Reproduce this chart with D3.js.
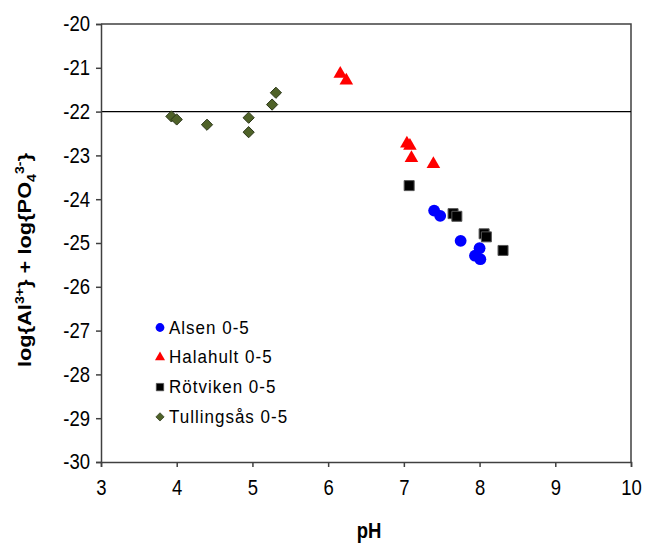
<!DOCTYPE html>
<html>
<head>
<meta charset="utf-8">
<script src="https://cdn.jsdelivr.net/npm/d3@7"></script>
<style>
  body { margin: 0; background: #fff; }
  text { font-family: "Liberation Sans", Arial, sans-serif; fill: #000; }
</style>
</head>
<body>
<div id="chart"></div>
<script>
// data: pH and log{Al3+} + log{PO4 3-}
const alsenPH = [7.40, 7.48, 7.75, 8.00, 7.94, 8.01];
const alsenLog = [-24.26, -24.38, -24.95, -25.12, -25.29, -25.37];

const halahultPH = [6.16, 6.24, 7.04, 7.08, 7.10, 7.39];
const halahultLog = [-21.14, -21.29, -22.73, -22.78, -23.06, -23.20];

const rotvikenPH = [7.07, 7.65, 7.70, 8.06, 8.09, 8.31];
const rotvikenLog = [-23.69, -24.33, -24.39, -24.79, -24.86, -25.17];

const tullingsasPH = [3.93, 4.00, 4.40, 4.95, 4.95, 5.26, 5.31];
const tullingsasLog = [-22.11, -22.18, -22.30, -22.14, -22.47, -21.84, -21.57];

const seriesNames = ['Alsen 0-5', 'Halahult 0-5', 'Rötviken 0-5', 'Tullingsås 0-5'];
const xTicks = [3, 4, 5, 6, 7, 8, 9, 10];
const yTicks = [-20, -21, -22, -23, -24, -25, -26, -27, -28, -29, -30];
const refLine = -22;

// layout
const svgWidth = 645, svgHeight = 545;
const plot = { left: 101, right: 631, top: 24, bottom: 462 };
// text in the picture looks a bit taller than wide
const stretch = 'scale(1,1.18)';

const svg = d3.select('#chart')
    .append('svg')
    .attr('width', svgWidth)
    .attr('height', svgHeight);

const x = d3.scaleLinear().domain([3, 10]).range([plot.left, plot.right]);
const y = d3.scaleLinear().domain([-30, -20]).range([plot.bottom, plot.top]);

const axisColor = '#404040';

// frame: top and right edges
svg.append('path')
    .attr('d', 'M' + plot.left + ',' + plot.top + 'H' + plot.right + 'V' + plot.bottom)
    .attr('fill', 'none')
    .attr('stroke', axisColor)
    .attr('stroke-width', 1.5);

// reference line at -22
svg.append('line')
    .attr('x1', x(3)).attr('x2', x(10))
    .attr('y1', y(refLine)).attr('y2', y(refLine))
    .attr('stroke', '#000')
    .attr('stroke-width', 1.3);

// x axis
const xAxis = svg.append('g')
    .attr('transform', 'translate(0,' + plot.bottom + ')')
    .call(d3.axisBottom(x).tickValues(xTicks).tickSize(5).tickPadding(10).tickFormat(d3.format('d')));

// y axis
const yAxis = svg.append('g')
    .attr('transform', 'translate(' + plot.left + ',0)')
    .call(d3.axisLeft(y).tickValues(yTicks).tickSize(5).tickPadding(6).tickFormat(d => d3.format('d')(d).replace('−', '-')));

[xAxis, yAxis].forEach(function (g) {
    g.select('.domain').attr('stroke', axisColor).attr('stroke-width', 1.5);
    g.selectAll('.tick line').attr('stroke', axisColor).attr('stroke-width', 1.5);
    g.selectAll('.tick text')
        .attr('font-family', '"Liberation Sans", Arial, sans-serif')
        .attr('font-size', 18.5)
        .attr('fill', '#000')
        .attr('transform', stretch);
});

// axis titles
svg.append('text')
    .attr('transform', 'translate(' + ((plot.left + plot.right) / 2 + 3) + ',538) ' + stretch)
    .attr('text-anchor', 'middle')
    .attr('font-size', 18.5)
    .attr('font-weight', 'bold')
    .text('pH');

const yTitle = svg.append('text')
    .attr('transform', 'translate(31,260) ' + stretch + ' rotate(-90)')
    .attr('text-anchor', 'middle')
    .attr('font-size', 18.5)
    .attr('font-weight', 'bold');
yTitle.append('tspan').text('log{Al');
yTitle.append('tspan').attr('font-size', 12).attr('dy', -7).text('3+');
yTitle.append('tspan').attr('dy', 7).text('} + log{PO');
yTitle.append('tspan').attr('font-size', 12).attr('dy', 5).text('4');
yTitle.append('tspan').attr('font-size', 12).attr('dy', -12).text('3-');
yTitle.append('tspan').attr('dy', 7).text('}');

// marker shapes
const symCircle = d3.symbol().type(d3.symbolCircle);
const symTriangle = d3.symbol().type(d3.symbolTriangle);
const symSquare = d3.symbol().type(d3.symbolSquare);
const symDiamond = d3.symbol().type(d3.symbolDiamond2);

const series = [
    { name: seriesNames[0], ph: alsenPH, val: alsenLog, sym: symCircle, size: 110, fill: '#0000ff', stroke: '#0000ff', sw: 0 },
    { name: seriesNames[1], ph: halahultPH, val: halahultLog, sym: symTriangle, size: 80, fill: '#ff0000', stroke: '#ff0000', sw: 0 },
    { name: seriesNames[2], ph: rotvikenPH, val: rotvikenLog, sym: symSquare, size: 100, fill: '#000000', stroke: '#555555', sw: 1 },
    { name: seriesNames[3], ph: tullingsasPH, val: tullingsasLog, sym: symDiamond, size: 80, fill: '#4f6228', stroke: '#2a3518', sw: 1 }
];

// draw points
series.forEach(function (s) {
    const pts = s.ph.map(function (p, i) { return { ph: p, val: s.val[i] }; });
    svg.append('g')
        .selectAll('path')
        .data(pts)
        .join('path')
        .attr('transform', d => 'translate(' + x(d.ph) + ',' + y(d.val) + ')')
        .attr('d', s.sym.size(s.size))
        .attr('fill', s.fill)
        .attr('stroke', s.stroke)
        .attr('stroke-width', s.sw);
});

// legend
const legend = svg.append('g').attr('transform', 'translate(160,327.5)');
series.forEach(function (s, i) {
    const row = legend.append('g').attr('transform', 'translate(0,' + (i * 29.8) + ')');
    row.append('path')
        .attr('d', s.sym.size(s.size * 0.55))
        .attr('fill', s.fill)
        .attr('stroke', s.stroke)
        .attr('stroke-width', s.sw * 0.7);
    row.append('text')
        .attr('transform', 'translate(9,6) scale(1,1.1)')
        .attr('font-size', 17)
        .attr('letter-spacing', 1)
        .text(s.name);
});
</script>
</body>
</html>
